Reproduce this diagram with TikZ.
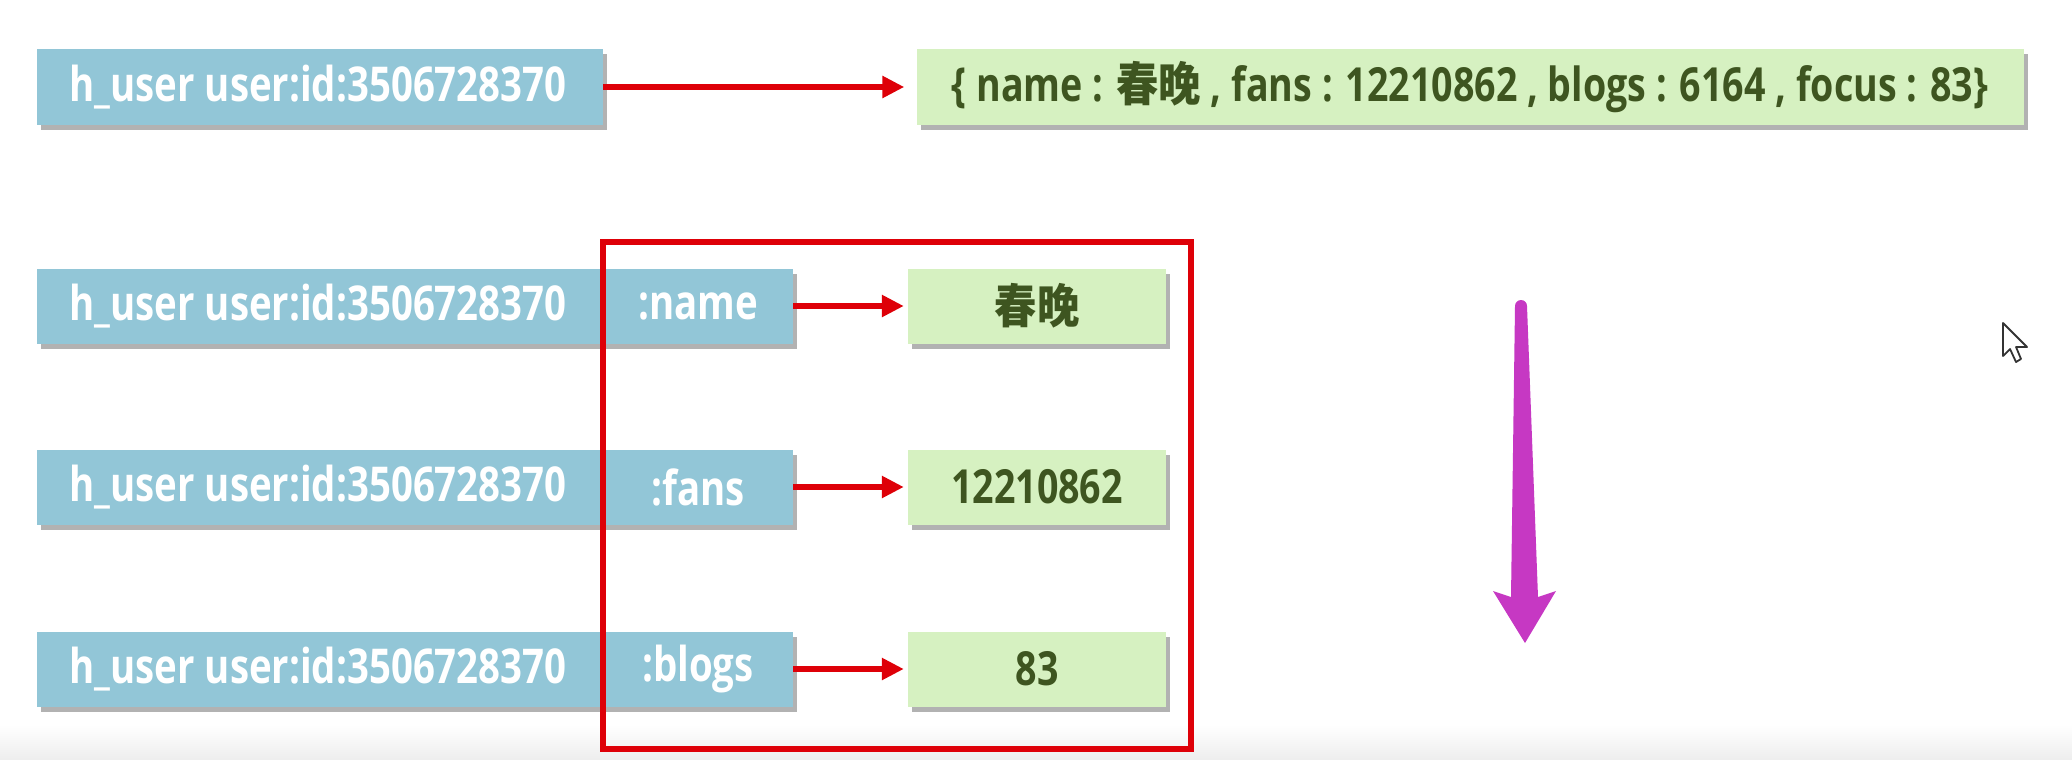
\documentclass[tikz,border=0pt]{standalone}
\usepackage{fontspec}
\setmainfont{Open Sans}[FakeStretch=0.8]
\newfontfamily\cjk{Noto Sans CJK SC}[FakeStretch=0.9]
\usetikzlibrary{arrows.meta,shadows}
\definecolor{boxblue}{HTML}{92C6D7}
\definecolor{boxgreen}{HTML}{D6F1C1}
\definecolor{txtgreen}{HTML}{3E5520}
\definecolor{redline}{HTML}{DE0008}
\definecolor{magenta}{HTML}{C638C3}
\tikzset{
  shade/.style={drop shadow={shadow xshift=4pt,shadow yshift=-5pt,fill=black,opacity=0.3}},
  bluebox/.style={fill=boxblue,draw=none,shade,minimum height=75pt,inner sep=0pt},
  greenbox/.style={fill=boxgreen,draw=none,shade,minimum height=75pt,inner sep=0pt,
    text=txtgreen,font=\fontsize{47}{50}\selectfont\bfseries},
  idtext/.style={text=white,font=\fontsize{48}{50}\selectfont\bfseries,inner sep=0pt},
  redarrow/.style={draw=redline,line width=6.5pt,-{Triangle[length=22pt,width=21pt]}},
}
\begin{document}
\begin{tikzpicture}[x=1pt,y=-1pt]
\useasboundingbox (0,0) rectangle (2072,760);
\fill[white] (0,0) rectangle (2072,760);
\shade[top color=white,bottom color=black!7] (0,725) rectangle (2072,760);
% top row
\node[bluebox,minimum width=566pt] (b0) at (320,87) {};
\node[idtext] (t0) at (318,87) {h\_user user:id:3506728370};
\node[greenbox,minimum width=1107pt] (g0) at (1470,87) {\{ name : {\cjk 春晚} , fans : 12210862 , blogs : 6164 , focus : 83\}};
\draw[redarrow,shorten >=12pt] (b0.east) -- (g0.west);
% rows
\foreach \y/\f/\v/\n in {306/name/{\cjk 春晚}/1, 487/fans/12210862/2, 669/blogs/83/3}{
  \node[bluebox,minimum width=756pt] (b\n) at (415,\y) {};
  \node[idtext] (t\n) at (318,\y) {h\_user user:id:3506728370};
  \node[idtext] (f\n) at (698,\y) {:\f};
  \node[greenbox,minimum width=258pt] (g\n) at (1037,\y) {\v};
  \draw[redarrow,shorten >=4pt] (b\n.east) -- (g\n.west);
}
% red frame
\draw[redline,line width=6pt] (603,242) rectangle (1191,749);
% magenta arrow
\fill[magenta] (1515,306) arc[start angle=180,end angle=360,radius=6] -- (1538,597) -- (1556,591) -- (1525,643) -- (1493,591) -- (1511,597) -- cycle;
% cursor
\draw[black!80,fill=white,line width=1.8pt,line join=round] (2003,323) -- (2003,356) -- (2010,349) -- (2016,362) -- (2021,359) -- (2016,347) -- (2027,347) -- cycle;
\end{tikzpicture}
\end{document}
